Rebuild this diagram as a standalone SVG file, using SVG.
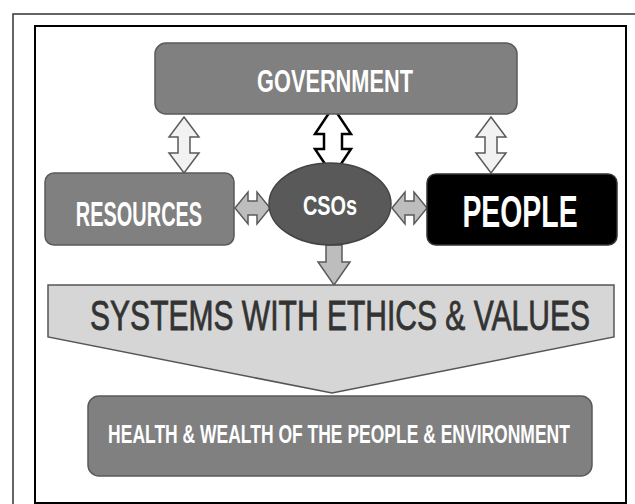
<svg xmlns="http://www.w3.org/2000/svg" width="635" height="504" viewBox="0 0 635 504">
<style>
.box{fill:#808080;stroke:#5a5a5a;stroke-width:1.5}
.wt{fill:#ffffff;font-family:"Liberation Sans",Arial,sans-serif;font-weight:bold;text-anchor:middle}
.dv{fill:#f2f2f2;stroke:#5a5a5a;stroke-width:1.5;stroke-linejoin:miter}
.gh{fill:#bdbdbd;stroke:#5a5a5a;stroke-width:1.5}
</style>
<rect x="0" y="0" width="635" height="504" fill="#ffffff"/>
<rect x="13" y="14" width="640" height="500" fill="none" stroke="#333" stroke-width="1.5"/>
<rect x="35" y="26" width="591" height="477" fill="none" stroke="#000" stroke-width="2"/>

<g id="connectors">
<path class="dv" d="M184,117 L199,137 L190,137 L190,153 L199,153 L184,173 L169,153 L178,153 L178,137 L169,137 Z"/>
<path class="dv" d="M491,117 L506,137 L497,137 L497,153 L506,153 L491,173 L476,153 L485,153 L485,137 L476,137 Z"/>
<path d="M333,107 L351,134 L342,134 L342,149 L351,149 L333,176 L315,149 L324,149 L324,134 L315,134 Z" fill="#ffffff" stroke="#000" stroke-width="2.5"/>
<path class="gh" d="M235,208 L248,192 L248,201 L257,201 L257,192 L270,208 L257,224 L257,215 L248,215 L248,224 Z"/>
<path class="gh" d="M392,208 L405,192 L405,201 L414,201 L414,192 L427,208 L414,224 L414,215 L405,215 L405,224 Z"/>
<path class="gh" d="M326,245 L342,245 L342,262 L350,262 L334,285 L318,262 L326,262 Z"/>
</g>

<g id="government">
<rect class="box" x="155" y="43" width="362" height="71" rx="11"/>
<text class="wt" font-size="32" transform="translate(335,92) scale(0.68,1)">GOVERNMENT</text>
</g>

<g id="resources">
<rect class="box" x="45" y="173" width="189" height="72" rx="9"/>
<text class="wt" font-size="35" transform="translate(139,226) scale(0.57,1)">RESOURCES</text>
</g>

<g id="csos">
<ellipse cx="330" cy="204" rx="61" ry="41" fill="#595959" stroke="#444" stroke-width="1.5"/>
<text class="wt" font-size="28" transform="translate(330,215) scale(0.71,1)">CSOs</text>
</g>

<g id="people">
<rect x="427" y="174" width="190" height="71" rx="9" fill="#000" stroke="#333" stroke-width="1.5"/>
<text class="wt" font-size="44" transform="translate(520,227) scale(0.645,1)">PEOPLE</text>
</g>

<g id="systems">
<polygon points="48,285 614,285 614,337 332,393 48,337" fill="#d6d6d6" stroke="#555" stroke-width="1.5"/>
<text font-size="42" fill="#333" stroke="#333" stroke-width="0.8" font-family="'Liberation Sans',Arial,sans-serif" text-anchor="middle" transform="translate(340,330) scale(0.715,1)">SYSTEMS WITH ETHICS &amp; VALUES</text>
</g>

<g id="health">
<rect class="box" x="88" y="396" width="504" height="80" rx="11"/>
<text class="wt" font-size="25" transform="translate(339,443) scale(0.70,1)">HEALTH &amp; WEALTH OF THE PEOPLE &amp; ENVIRONMENT</text>
</g>
</svg>
